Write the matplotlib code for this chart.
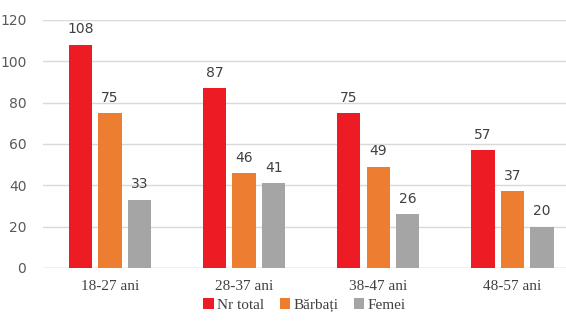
import numpy as np
import matplotlib.pyplot as plt

categories = ["18-27 ani", "28-37 ani", "38-47 ani", "48-57 ani"]
nr_total = [108, 87, 75, 57]
barbati = [75, 46, 49, 37]
femei = [33, 41, 26, 20]
series = [("Nr total", nr_total, "#ED1C24"),
          ("Bărbați", barbati, "#ED7D31"),
          ("Femei", femei, "#A5A5A5")]

fig = plt.figure(figsize=(5.66, 3.22), dpi=100)
ax = fig.add_axes([0.076, 0.168, 0.924, 0.77])

x = np.arange(len(categories))
width = 0.175
offset = 0.22
for i, (name, vals, color) in enumerate(series):
    pos = x + (i - 1) * offset
    bars = ax.bar(pos, vals, width, color=color, label=name, zorder=3)
    for b, v in zip(bars, vals):
        ax.text(b.get_x() + b.get_width() / 2, v + 4, str(v), ha="center",
                va="bottom", fontsize=10, color="#404040", family="DejaVu Sans")

ax.set_xlim(-0.5, 3.40)
ax.set_ylim(0, 120)
ax.set_yticks(range(0, 121, 20))
ax.yaxis.grid(True, color="#D9D9D9", linewidth=1, zorder=0)
for s in ax.spines.values():
    s.set_visible(False)
ax.axhline(0, color="#D9D9D9", linewidth=1, zorder=2)
ax.tick_params(axis="both", length=0)
ax.tick_params(axis="y", labelsize=10, labelcolor="#595959", pad=12)
ax.set_xticks(x)
ax.set_xticklabels(categories, family="Liberation Serif", fontsize=11, color="#404040")
ax.tick_params(axis="x", pad=9)

ax.legend(loc="center", bbox_to_anchor=(0.5, -0.15), ncol=3, frameon=False,
          prop={"family": "Liberation Serif", "size": 11}, handlelength=0.7,
          handleheight=0.7, handletextpad=0.2, columnspacing=1.0, labelcolor="#404040")

fig.savefig("out.png", dpi=100)
